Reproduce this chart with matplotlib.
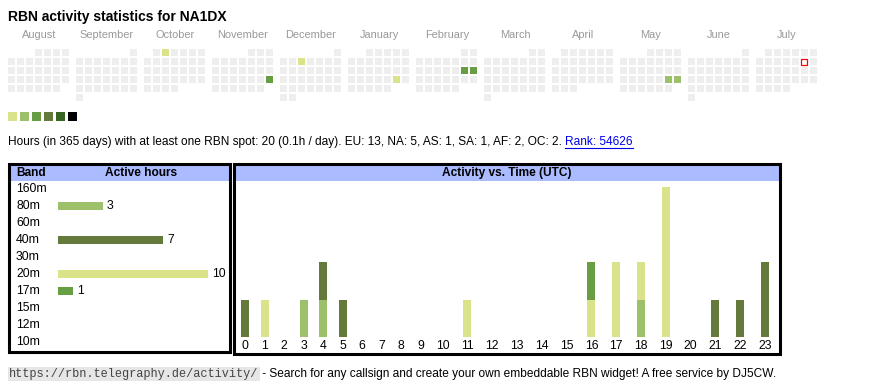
import datetime as dt
import numpy as np
import matplotlib
matplotlib.use("Agg")
import matplotlib.pyplot as plt
from matplotlib.patches import Rectangle

plt.rcParams['font.family'] = ['Liberation Sans', 'DejaVu Sans']

W, H = 870, 390
callsign = "NA1DX"

# calendar data
months = ["August", "September", "October", "November", "December", "January",
          "February", "March", "April", "May", "June", "July"]
month_starts = [(2024, 8), (2024, 9), (2024, 10), (2024, 11), (2024, 12), (2025, 1),
                (2025, 2), (2025, 3), (2025, 4), (2025, 5), (2025, 6), (2025, 7)]
active_days = ["2024-10-02", "2024-11-24", "2024-12-04", "2025-01-25",
               "2025-02-15", "2025-02-16", "2025-05-24", "2025-05-25"]
active_levels = [0, 2, 0, 0, 2, 2, 1, 1]
today = "2025-07-12"
level_colors = ["#dae389", "#9dc16b", "#679d43", "#637a3a", "#386424", "#000000"]

# band table
bands = ["160m", "80m", "60m", "40m", "30m", "20m", "17m", "15m", "12m", "10m"]
band_hours = [0, 3, 0, 7, 0, 10, 1, 0, 0, 0]
band_colors = {"80m": "#9dc16b", "40m": "#637a3a", "20m": "#dae389", "17m": "#679d43"}

# activity vs time, per band (stacked low band first)
hours = list(range(24))
act_80m = [0, 0, 0, 1, 1, 0, 0, 0, 0, 0, 0, 0, 0, 0, 0, 0, 0, 0, 1, 0, 0, 0, 0, 0]
act_40m = [1, 0, 0, 0, 1, 1, 0, 0, 0, 0, 0, 0, 0, 0, 0, 0, 0, 0, 0, 0, 0, 1, 1, 2]
act_20m = [0, 1, 0, 0, 0, 0, 0, 0, 0, 0, 0, 1, 0, 0, 0, 0, 1, 2, 1, 4, 0, 0, 0, 0]
act_17m = [0, 0, 0, 0, 0, 0, 0, 0, 0, 0, 0, 0, 0, 0, 0, 0, 1, 0, 0, 0, 0, 0, 0, 0]

stats_text = ("Hours (in 365 days) with at least one RBN spot: 20 (0.1h / day). "
              "EU: 13, NA: 5, AS: 1, SA: 1, AF: 2, OC: 2. ")
rank_text = "Rank: 54626"
link_text = "https://rbn.telegraphy.de/activity/"
footer_text = " - Search for any callsign and create your own embeddable RBN widget! A free service by DJ5CW."


def px_box(x, y, w, h):
    return [x / W, 1 - (y + h) / H, w / W, h / H]


fig = plt.figure(figsize=(W / 100, H / 100), dpi=100)
ax = fig.add_axes([0, 0, 1, 1])
ax.set_xlim(0, W)
ax.set_ylim(H, 0)
ax.axis('off')

ax.text(8, 17, "RBN activity statistics for " + callsign, fontsize=10.0,
        fontweight='bold', va='center', ha='left')

# calendar
active = {dt.date.fromisoformat(d): lvl for d, lvl in zip(active_days, active_levels)}
today_d = dt.date.fromisoformat(today)
for m, (yr, mo) in enumerate(month_starts):
    x0 = 8 + m * 68
    ax.text(x0 + 31, 35, months[m], fontsize=7.9, color='#999999', ha='center', va='center')
    first = dt.date(yr, mo, 1)
    nxt = dt.date(yr + mo // 12, mo % 12 + 1, 1)
    for i in range((nxt - first).days):
        day = first + dt.timedelta(days=i)
        row, col = divmod(first.weekday() + i, 7)
        cx, cy = x0 + col * 9, 49 + row * 9
        if day == today_d:
            ax.add_patch(Rectangle((cx + 0.5, cy + 0.5), 6, 6, facecolor='white',
                                   edgecolor='red', lw=0.9))
        else:
            c = level_colors[active[day]] if day in active else '#eeeeee'
            ax.add_patch(Rectangle((cx, cy), 7, 7, facecolor=c, edgecolor='none'))

# legend swatches
for i, c in enumerate(level_colors):
    ax.add_patch(Rectangle((8 + 12 * i, 112), 9, 9, facecolor=c, edgecolor='none'))

# stats line
fig.canvas.draw()
r = fig.canvas.get_renderer()
t = ax.text(8, 142, stats_text, fontsize=8.6, va='center', ha='left')
x_end = t.get_window_extent(r).x1
rt = ax.text(x_end, 142, rank_text, fontsize=8.6, va='center', ha='left', color='#0000ee')
ext = rt.get_window_extent(r)
ax.plot([ext.x0, ext.x1], [148, 148], color='#0000ee', lw=0.8)

# table frames and headers
hdr = '#aabbff'
ax.add_patch(Rectangle((10, 165), 220, 16, facecolor=hdr, edgecolor='none'))
ax.add_patch(Rectangle((235, 165), 545, 16, facecolor=hdr, edgecolor='none'))
ax.add_patch(Rectangle((9.5, 164), 221, 188, facecolor='none', edgecolor='black', lw=2.2))
ax.add_patch(Rectangle((234, 164), 546.5, 190, facecolor='none', edgecolor='black', lw=2.2))
ax.text(16, 173, "Band", fontsize=8.6, fontweight='bold', va='center')
ax.text(141, 173, "Active hours", fontsize=8.6, fontweight='bold', va='center', ha='center')
ax.text(507, 173, "Activity vs. Time (UTC)", fontsize=8.6, fontweight='bold',
        va='center', ha='center')

# band bars
axb = fig.add_axes(px_box(11, 182, 218, 168))
axb.set_xlim((11 - 58) / 15, (229 - 58) / 15)
axb.set_ylim((350 - 189) / 17, (182 - 189) / 17)
axb.axis('off')
colors_b = [band_colors.get(b, '#ffffff') for b in bands]
axb.barh(range(len(bands)), band_hours, height=0.42, color=colors_b)
for i, (b, h) in enumerate(zip(bands, band_hours)):
    axb.text((16 - 58) / 15, i, b, fontsize=8.8, va='center', ha='left')
    if h:
        axb.text(h + 4 / 15, i, str(h), fontsize=8.8, va='center', ha='left')

# activity bars (html table: columns sized by label width)
col_w = np.array([19.5 if h < 10 else 24.8 for h in hours])
centers = 235.25 + np.cumsum(col_w) - col_w / 2
unit = 37.5
axa = fig.add_axes(px_box(236, 182, 543, 170))
axa.set_xlim(236, 779)
axa.set_ylim(-(352 - 337) / unit, (337 - 182) / unit)
axa.axis('off')
bottom = np.zeros(24)
for vals, b in [(act_80m, "80m"), (act_40m, "40m"), (act_20m, "20m"), (act_17m, "17m")]:
    vals = np.array(vals)
    axa.bar(centers, vals, width=8, bottom=bottom, color=band_colors[b])
    bottom += vals
for c, h in zip(centers, hours):
    axa.text(c, -(346 - 337) / unit, str(h), fontsize=8.8, ha='center', va='center')

# footer
lt = ax.text(9, 374, link_text, fontsize=8.6, family=['Liberation Mono', 'DejaVu Sans Mono'],
             color='#444444', va='center', ha='left',
             bbox=dict(boxstyle='square,pad=0.12', facecolor='#e6e6e6', edgecolor='none'))
x_end = lt.get_window_extent(r).x1 + 1
ax.text(x_end, 374, footer_text, fontsize=8.6,
        family=['Liberation Sans Narrow', 'Liberation Sans'], va='center', ha='left')

fig.savefig("out.png", dpi=100)
